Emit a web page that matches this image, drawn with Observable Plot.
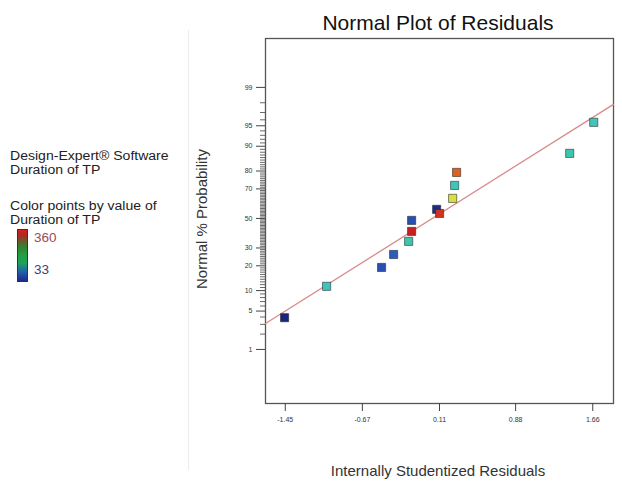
<!DOCTYPE html>
<html>
<head>
<meta charset="utf-8">
<script src="https://cdn.jsdelivr.net/npm/d3@7"></script>
<script src="https://cdn.jsdelivr.net/npm/@observablehq/plot@0.6"></script>
<style>
  html, body { margin: 0; padding: 0; background: #fff; }
  #wrap { position: relative; width: 622px; height: 481px; font-family: "Liberation Sans", Arial, sans-serif; color: #222; overflow: hidden; }
  #wrap svg { position: absolute; left: 0; top: 0; }
  .t { position: absolute; white-space: nowrap; }
</style>
</head>
<body>
<div id="wrap"></div>
<script>
// ---- data ----
const residuals = [-1.457, -1.032, -0.476, -0.354, -0.202, -0.172, -0.172, 0.081, 0.111, 0.243, 0.263, 0.283, 1.427, 1.670];
const normalPct = [3.9, 11.4, 19.2, 26.1, 34.2, 40.9, 48.6, 56.4, 53.5, 63.9, 72.1, 79.3, 87.6, 95.6];
const durationTP = [33, 118, 70, 80, 130, 360, 70, 40, 345, 250, 125, 310, 130, 125];
const xTickValues = [-1.45, -0.67, 0.11, 0.88, 1.66];
const yTickLabels = [1, 5, 10, 20, 30, 50, 70, 80, 90, 95, 99];
const fitMean = 0.038, fitSd = 0.905;   // reference line of the normal plot
const xDomain = [-1.65, 1.87];
const pctDomain = [0.0508, 99.93];

// inverse standard normal CDF (Acklam)
function probit(p) {
  const a = [-3.969683028665376e+01, 2.209460984245205e+02, -2.759285104469687e+02, 1.383577518672690e+02, -3.066479806614716e+01, 2.506628277459239e+00];
  const b = [-5.447609879822406e+01, 1.615858368580409e+02, -1.556989798598866e+02, 6.680131188771972e+01, -1.328068155288572e+01];
  const c = [-7.784894002430293e-03, -3.223964580411365e-01, -2.400758277161838e+00, -2.549732539343734e+00, 4.374664141464968e+00, 2.938163982698783e+00];
  const d = [7.784695709041462e-03, 3.224671290700398e-01, 2.445134137142996e+00, 3.754408661907416e+00];
  const pl = 0.02425;
  let q, r;
  if (p < pl) { q = Math.sqrt(-2 * Math.log(p)); return (((((c[0]*q+c[1])*q+c[2])*q+c[3])*q+c[4])*q+c[5]) / ((((d[0]*q+d[1])*q+d[2])*q+d[3])*q+1); }
  if (p > 1 - pl) { q = Math.sqrt(-2 * Math.log(1 - p)); return -(((((c[0]*q+c[1])*q+c[2])*q+c[3])*q+c[4])*q+c[5]) / ((((d[0]*q+d[1])*q+d[2])*q+d[3])*q+1); }
  q = p - 0.5; r = q * q;
  return (((((a[0]*r+a[1])*r+a[2])*r+a[3])*r+a[4])*r+a[5])*q / (((((b[0]*r+b[1])*r+b[2])*r+b[3])*r+b[4])*r+1);
}
const z = pct => probit(pct / 100);

const points = residuals.map((x, i) => ({x, z: z(normalPct[i]), dur: durationTP[i]}));
const majorZ = yTickLabels.map(z);
const labelByZ = new Map(yTickLabels.map(v => [z(v), String(v)]));
const minorZ = d3.range(1, 100).filter(v => !yTickLabels.includes(v)).map(z);
const fitLine = xDomain.map(x => ({x, z: (x - fitMean) / fitSd}));

const chart = Plot.plot({
  width: 622, height: 481,
  marginLeft: 265, marginRight: 9, marginTop: 38, marginBottom: 78,
  style: {fontFamily: "'Liberation Sans', Arial, sans-serif", background: "transparent"},
  x: {domain: xDomain, label: null},
  y: {domain: pctDomain.map(z), label: null},
  color: {type: "linear", domain: [33, 80, 120, 196, 250, 310, 360],
          range: ["#1a2580", "#2a5cc0", "#40c8c0", "#30b040", "#d8e040", "#e06020", "#c82020"],
          interpolate: "rgb"},
  marks: [
    Plot.frame({stroke: "#555", strokeWidth: 1.3}),
    Plot.axisY(minorZ, {tickSize: 5, tickFormat: () => "", stroke: "#444", strokeWidth: 0.8}),
    Plot.axisY(majorZ, {tickSize: 9, tickPadding: 4, tickFormat: d => labelByZ.get(d), fontSize: 7, fill: "#333", stroke: "#444"}),
    Plot.axisX(xTickValues, {tickSize: 8, tickPadding: 6, tickFormat: d => d.toFixed(2), fontSize: 7, fill: "#333", stroke: "#444"}),
    Plot.line(fitLine, {x: "x", y: "z", stroke: "#d88a8a", strokeWidth: 1.3}),
    Plot.dot(points, {x: "x", y: "z", fill: "dur", symbol: "square", r: 4.6, stroke: "#222", strokeOpacity: 0.55, strokeWidth: 1})
  ]
});

const wrap = document.getElementById("wrap");
wrap.appendChild(chart);

function addText(html, css) {
  const el = document.createElement("div");
  el.className = "t";
  el.innerHTML = html;
  Object.assign(el.style, css);
  wrap.appendChild(el);
  return el;
}
// separator
const sep = document.createElement("div");
Object.assign(sep.style, {position: "absolute", left: "188px", top: "30px", width: "1px", height: "440px", background: "#ececec"});
wrap.appendChild(sep);

addText("Normal Plot of Residuals", {left: "438px", top: "11px", fontSize: "21px", color: "#111", transform: "translateX(-50%)"});
addText("Internally Studentized Residuals", {left: "438px", top: "462px", fontSize: "15px", color: "#333", transform: "translateX(-50%)"});
addText("Normal % Probability", {left: "201px", top: "219px", fontSize: "15px", color: "#333", transform: "translate(-50%,-50%) rotate(-90deg)"});

const legCss = {left: "10px", fontSize: "12px", lineHeight: "14px", transform: "scaleX(1.17)", transformOrigin: "left top"};
addText("Design-Expert\u00ae Software<br>Duration of TP", Object.assign({top: "149px"}, legCss));
addText("Color points by value of<br>Duration of TP", Object.assign({top: "199px"}, legCss));

const bar = document.createElement("div");
Object.assign(bar.style, {position: "absolute", left: "17px", top: "229px", width: "9px", height: "51px",
  border: "1px solid #333",
  background: "linear-gradient(to bottom, #d42020 0%, #b02820 10%, #3a7a30 30%, #20a040 50%, #20a060 65%, #2060a8 82%, #202890 100%)"});
wrap.appendChild(bar);
addText("360", {left: "34px", top: "231px", fontSize: "13.5px", color: "#a04a50", lineHeight: "14px"});
addText("33", {left: "34px", top: "263px", fontSize: "13.5px", color: "#404078", lineHeight: "14px"});
</script>
</body>
</html>
